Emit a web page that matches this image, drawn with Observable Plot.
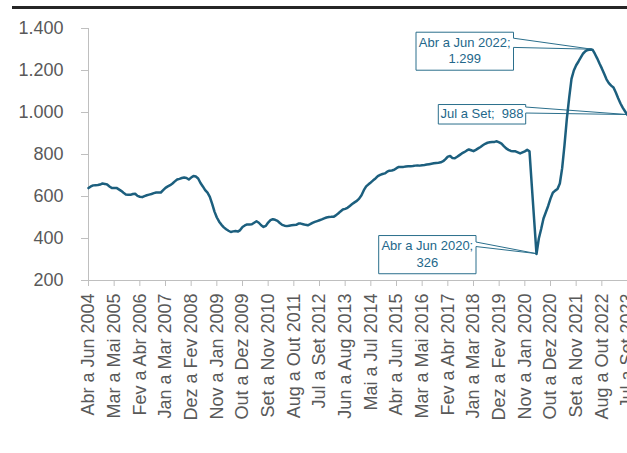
<!DOCTYPE html>
<html>
<head>
<meta charset="utf-8">
<script src="https://cdn.jsdelivr.net/npm/d3@7"></script>
<script src="https://cdn.jsdelivr.net/npm/@observablehq/plot@0.6"></script>
<style>
  html, body { margin: 0; padding: 0; background: #fff; }
  #wrap { position: relative; width: 627px; height: 453px; overflow: hidden; }
  #bar { position: absolute; left: 12px; top: 6px; width: 615px; height: 3px; background: #262626; }
  svg { overflow: visible; }
</style>
</head>
<body>
<div id="wrap"><div id="bar"></div></div>
<script>
// Rolling 3-month values, monthly from "Abr a Jun 2004" (index 0) to "Jul a Set 2023" (index 231)
const values = [
  640, 648, 653, 654, 655, 657, 662, 660, 657, 648, 640, 640,
  641, 634, 627, 618, 610, 608, 608, 612, 613, 603, 599, 597,
  602, 606, 609, 612, 616, 619, 619, 619, 630, 641, 648, 654,
  662, 672, 681, 684, 688, 690, 688, 681, 690, 698, 695, 686,
  664, 648, 630, 618, 598, 565, 528, 500, 480, 465, 453, 444,
  437, 431, 434, 436, 433, 440, 455, 462, 467, 467, 468, 475,
  482, 475, 463, 455, 460, 476, 487, 492, 489, 484, 474, 465,
  461, 459, 461, 463, 464, 465, 471, 471, 468, 465, 463, 468,
  474, 479, 483, 487, 491, 496, 500, 502, 503, 503, 510, 519,
  529, 538, 541, 546, 555, 564, 572, 579, 590, 606, 630, 648,
  658, 667, 677, 686, 697, 703, 707, 710, 718, 723, 724, 727,
  735, 741, 741, 741, 743, 744, 744, 745, 747, 748, 747, 749,
  750, 752, 754, 756, 758, 760, 761, 763, 768, 778, 790, 793,
  783, 782, 789, 797, 805, 811, 818, 824, 820, 816, 822, 829,
  836, 844, 851, 856, 858, 859, 860, 863, 858, 852, 840, 829,
  822, 817, 816, 815, 810, 805, 810, 815, 822, 815, 650, 488,
  326, 400, 445, 495, 525, 555, 590, 618, 628, 636, 662, 735,
  845, 970, 1070, 1160, 1200, 1225, 1243, 1262, 1281, 1292, 1298, 1300,
  1299, 1280, 1258, 1233, 1210, 1184, 1158, 1140, 1128, 1119, 1095, 1068,
  1043, 1022, 1005, 988
];

// Tick labels, one every 11 months
const tickLabels = [
  "Abr a Jun 2004", "Mar a Mai 2005", "Fev a Abr 2006", "Jan a Mar 2007",
  "Dez a Fev 2008", "Nov a Jan 2009", "Out a Dez 2009", "Set a Nov 2010",
  "Aug a Out 2011", "Jul a Set 2012", "Jun a Aug 2013", "Mai a Jul 2014",
  "Abr a Jun 2015", "Mar a Mai 2016", "Fev a Abr 2017", "Jan a Mar 2018",
  "Dez a Fev 2019", "Nov a Jan 2020", "Out a Dez 2020", "Set a Nov 2021",
  "Aug a Out 2022", "Jul a Set 2023"
];
const tickStep = 11;
const yTicks = [200, 400, 600, 800, 1000, 1200, 1400];

// Annotations (index into values, text lines)
const annIndex = [216, 231, 192];
const annText = [["Abr a Jun 2022;", "1.299"], ["Jul a Set;  988"], ["Abr a Jun 2020;", "326"]];

const fmt = d3.formatLocale({decimal: ",", thousands: ".", grouping: [3], currency: ["", ""]}).format(",");

const lineColor = "#1c5f7e";
const axisGray = "#bfbfbf";
const textGray = "#595959";

const chart = Plot.plot({
  width: 627,
  height: 453,
  marginTop: 28,
  marginLeft: 88,
  marginRight: 0,
  marginBottom: 173,
  style: {fontFamily: "'Liberation Sans', Arial, sans-serif", background: "transparent"},
  x: {domain: [0, values.length - 1]},
  y: {domain: [200, 1400]},
  marks: [
    Plot.ruleX([0], {stroke: axisGray}),
    Plot.ruleY([200], {stroke: axisGray}),
    Plot.axisY({
      ticks: yTicks, tickFormat: fmt, tickSize: 7, tickPadding: 18,
      stroke: axisGray, fill: textGray, fontSize: 18, label: null
    }),
    Plot.axisX({
      ticks: tickLabels.map((_, k) => k * tickStep),
      tickFormat: i => tickLabels[Math.round(i / tickStep)],
      tickRotate: -90, tickSize: 6, tickPadding: 7,
      stroke: axisGray, fill: textGray, fontSize: 18, label: null
    }),
    Plot.lineY(values, {x: (d, i) => i, y: d => d, stroke: lineColor, strokeWidth: 2.5})
  ]
});

document.getElementById("wrap").appendChild(chart);
chart.style.position = "absolute";
chart.style.left = "0px";
chart.style.top = "0px";

// Callouts (layout offsets in pixels relative to the annotated point)
const layout = [
  {box: [-176, -78.5, -17, 21], wedge: [-11, -1.8], lines: [11, 27.5]},
  {box: [-188.7, -101.3, -10, 9.5], wedge: [-7.5, -1.5], lines: [10]},
  {box: [-157.3, -60, -18, 20.2], wedge: [-11.5, -7], lines: [11, 28.5]}
];
const sx = chart.scale("x"), sy = chart.scale("y");
const svg = d3.select(chart);
const g = svg.insert("g", "[aria-label='line']");
annIndex.forEach((idx, k) => {
  const px = sx.apply(idx), py = sy.apply(values[idx]);
  const L = layout[k];
  const x0 = px + L.box[0], x1 = px + L.box[1], y0 = py + L.box[2], y1 = py + L.box[3];
  g.append("path")
    .attr("d", `M${x0},${y0}H${x1}V${py + L.wedge[0]}L${px},${py}L${x1},${py + L.wedge[1]}V${y1}H${x0}Z`)
    .attr("fill", "white")
    .attr("stroke", "#2b6f8c")
    .attr("stroke-width", 1);
  annText[k].forEach((t, j) => {
    g.append("text")
      .attr("x", (x0 + x1) / 2)
      .attr("y", y0 + L.lines[j])
      .attr("text-anchor", "middle")
      .attr("dominant-baseline", "middle")
      .attr("fill", "#23678a")
      .attr("font-size", 13)
      .attr("font-family", "'Liberation Sans', Arial, sans-serif")
      .style("white-space", "pre")
      .text(t);
  });
});
</script>
</body>
</html>
